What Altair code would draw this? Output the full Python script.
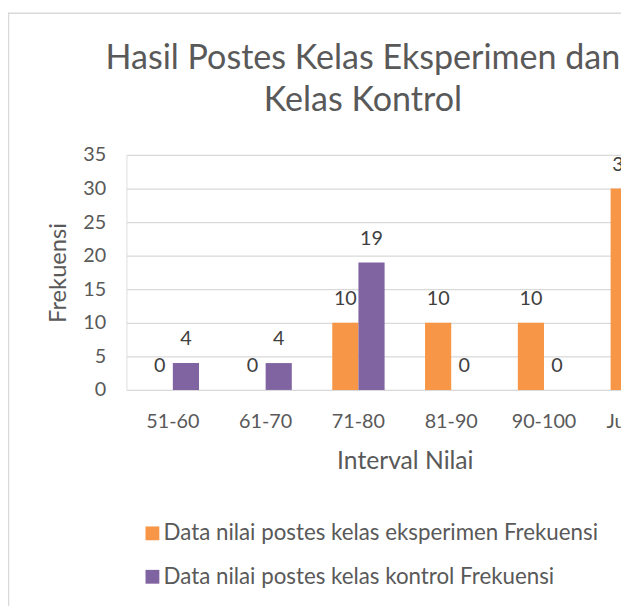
import altair as alt
import pandas as pd

categories = ["51-60", "61-70", "71-80", "81-90", "90-100", "Jumlah"]
eksperimen = [0, 0, 10, 10, 10, 30]
kontrol = [4, 4, 19, 0, 0, 27]
series_names = [
    "Data nilai postes kelas eksperimen Frekuensi",
    "Data nilai postes kelas kontrol Frekuensi",
]
colors = ["#F79646", "#8064A2"]
y_ticks = [0, 5, 10, 15, 20, 25, 30, 35]

rows = []
for c, e, k in zip(categories, eksperimen, kontrol):
    rows.append({"kategori": c, "seri": series_names[0], "nilai": e})
    rows.append({"kategori": c, "seri": series_names[1], "nilai": k})
df = pd.DataFrame(rows)

FONT = "Lato"
GRAY = "#595959"

x_enc = alt.X(
    "kategori:N",
    sort=categories,
    scale=alt.Scale(domain=categories, range=[0, 564], paddingInner=0.436, paddingOuter=0.218),
    axis=alt.Axis(
        title="Interval Nilai",
        labelAngle=0,
        domain=False,
        ticks=False,
        labelFontSize=20,
        labelColor=GRAY,
        labelFont=FONT,
        labelPadding=22,
        titleFontSize=25,
        titleFont=FONT,
        titleColor=GRAY,
        titleFontWeight="normal",
        titleX=282,
        titleY=60,
        titleAlign="center",
        titleBaseline="top",
    ),
)
xo_enc = alt.XOffset(
    "seri:N",
    sort=series_names,
    scale=alt.Scale(domain=series_names, paddingInner=0, paddingOuter=0),
)
y_enc = alt.Y(
    "nilai:Q",
    scale=alt.Scale(domain=[0, 35], nice=False),
    axis=alt.Axis(
        title="Frekuensi",
        values=y_ticks,
        domain=False,
        ticks=False,
        grid=True,
        gridColor="#d9d9d9",
        gridWidth=1.3,
        labelFontSize=20,
        labelColor=GRAY,
        labelFont=FONT,
        labelPadding=21,
        labelOverlap=False,
        titleFontSize=24,
        titleFont=FONT,
        titleColor=GRAY,
        titleFontWeight="normal",
        titleX=-69,
        titleBaseline="middle",
    ),
)

base = alt.Chart(df).encode(x=x_enc, xOffset=xo_enc, y=y_enc)

bars = base.mark_bar(clip=True).encode(
    color=alt.Color(
        "seri:N",
        sort=series_names,
        scale=alt.Scale(domain=series_names, range=colors),
        legend=alt.Legend(
            title=None,
            orient="none",
            legendX=15,
            legendY=372,
            symbolType="square",
            symbolSize=196,
            symbolStrokeWidth=0,
            labelFontSize=22.6,
            labelFont=FONT,
            labelColor=GRAY,
            labelOffset=0,
            labelLimit=600,
            rowPadding=21,
            direction="vertical",
        ),
    ),
)

labels = base.mark_text(
    clip=True,
    fontSize=20,
    font=FONT,
    color="#404040",
    baseline="alphabetic",
    dy=-18,
).encode(
    text=alt.Text("nilai:Q"),
)

frame_df = pd.DataFrame({"k": [0]})
frame_v = alt.Chart(frame_df).mark_rule(color="#d9d9d9", strokeWidth=1.5).encode(
    x=alt.value(-119.5), y=alt.value(-144), y2=alt.value(460)
)
frame_h = alt.Chart(frame_df).mark_rule(color="#d9d9d9", strokeWidth=1.5).encode(
    x=alt.value(-120), x2=alt.value(520), y=alt.value(-143.5)
)

chart = (
    alt.layer(bars, labels, frame_v, frame_h)
    .properties(
        width=501,
        height=238,
        title=alt.TitleParams(
            text=["Hasil Postes Kelas Eksperimen dan", "Kelas Kontrol"],
            fontSize=34.5,
            font=FONT,
            color=GRAY,
            fontWeight="normal",
            lineHeight=43,
            anchor="middle",
            frame="group",
            dx=-11,
            offset=-108,
        ),
        autosize=alt.AutoSizeParams(type="none"),
        padding={"left": 120, "top": 145, "right": 0, "bottom": 215},
    )
    .configure_view(stroke=None)
    .configure(background="white")
)

chart.save("out.html", embed_options={"renderer": "svg", "actions": False})
